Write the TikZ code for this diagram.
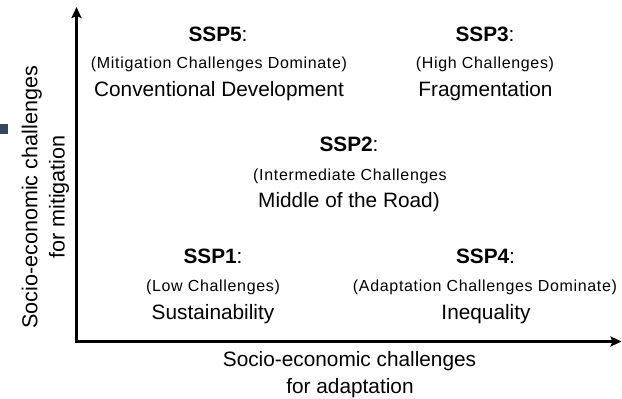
\documentclass[tikz,border=0pt]{standalone}
\usepackage{fontspec}
\setmainfont{Liberation Sans}
\newfontfamily\tracked[LetterSpace=4.2]{Liberation Sans}
\usetikzlibrary{arrows.meta}

\definecolor{slate}{HTML}{36495A}

\begin{document}
\begin{tikzpicture}[x=1pt, y=-1pt,
    axis/.style={line width=3pt, {Stealth[length=11pt,width=10pt,inset=2pt]}-{Stealth[length=11pt,width=10pt,inset=2pt]}},
    big/.style={anchor=base, inner sep=0pt, font=\fontsize{20.8}{25}\selectfont},
    small/.style={anchor=base, inner sep=0pt, font=\tracked\fontsize{16}{19}\selectfont},
    axislabel/.style={big},
    ylabel/.style={anchor=base, inner sep=0pt, rotate=90, font=\fontsize{21.6}{26}\selectfont}]
    \useasboundingbox (0,0) rectangle (622,399);

    % marker on the left edge
    \fill[slate] (0,124) rectangle (8,134);

    % axes
    \coordinate (O) at (76.5,341.5);
    \coordinate (Ytop) at (76.5,7);
    \coordinate (Xend) at (621.5,341.5);
    \draw[axis] (Ytop) -- (O) -- (Xend);

    % axis labels
    \node[axislabel] (xlab1) at (349.5,366) {Socio-economic challenges};
    \node[axislabel] (xlab2) at (350,393) {for adaptation};
    \node[ylabel] (ylab1) at (37.5,197.5) {Socio-economic challenges};
    \node[ylabel] (ylab2) at (64.5,197) {for mitigation};

    % SSP5, top left
    \node[big] (ssp5) at (218,41) {\textbf{SSP5}:};
    \node[small] (ssp5sub) at (219,68.5) {(Mitigation Challenges Dominate)};
    \node[big] (ssp5name) at (219,96.5) {Conventional Development};

    % SSP3, top right
    \node[big] (ssp3) at (485,41) {\textbf{SSP3}:};
    \node[small] (ssp3sub) at (485,68.5) {(High Challenges)};
    \node[big] (ssp3name) at (485.5,96.5) {Fragmentation};

    % SSP2, middle
    \node[big] (ssp2) at (349,151.5) {\textbf{SSP2}:};
    \node[small] (ssp2sub) at (350,180) {(Intermediate Challenges};
    \node[big] (ssp2name) at (349,207.5) {Middle of the Road)};

    % SSP1, bottom left
    \node[big] (ssp1) at (213,263.5) {\textbf{SSP1}:};
    \node[small] (ssp1sub) at (213,291.5) {(Low Challenges)};
    \node[big] (ssp1name) at (213,319.5) {Sustainability};

    % SSP4, bottom right
    \node[big] (ssp4) at (485.5,263.5) {\textbf{SSP4}:};
    \node[small] (ssp4sub) at (485,291.5) {(Adaptation Challenges Dominate)};
    \node[big] (ssp4name) at (486,319.5) {Inequality};
\end{tikzpicture}
\end{document}
